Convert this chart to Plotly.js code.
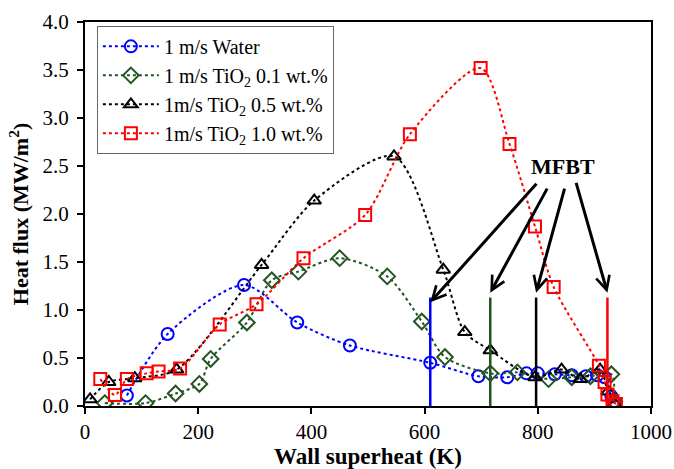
<!DOCTYPE html>
<html>
<head>
<meta charset="utf-8">
<script src="https://cdn.plot.ly/plotly-3.0.1.min.js"></script>
<style>html,body{margin:0;padding:0;background:#fff;}#chart{width:674px;height:469px;}</style>
</head>
<body>
<div id="chart"></div>
<script>
// Series data (x: wall superheat K, y: heat flux MW/m2)
const waterX = [74, 146, 281, 375, 468, 610, 695, 746, 780, 800, 830, 860, 885, 905, 918, 930, 936];
const waterY = [0.11, 0.75, 1.26, 0.87, 0.63, 0.45, 0.31, 0.30, 0.34, 0.34, 0.33, 0.32, 0.31, 0.32, 0.30, 0.10, 0.03];

const ti01X = [35, 107, 160, 202, 222, 286, 330, 377, 450, 534, 595, 636, 716, 764, 819, 860, 893, 930, 935];
const ti01Y = [0.03, 0.03, 0.13, 0.23, 0.49, 0.87, 1.31, 1.40, 1.54, 1.35, 0.88, 0.51, 0.34, 0.35, 0.28, 0.30, 0.31, 0.33, 0.05];

const ti05X = [9, 42, 88, 162, 312, 405, 546, 633, 671, 716, 795, 842, 875, 910, 924, 936];
const ti05Y = [0.07, 0.25, 0.29, 0.38, 1.47, 2.14, 2.60, 1.42, 0.77, 0.58, 0.30, 0.38, 0.28, 0.38, 0.15, 0.02];

const ti10X = [27, 53, 74, 109, 130, 168, 238, 303, 386, 495, 574, 699, 750, 795, 828, 908, 918, 923, 932, 938];
const ti10Y = [0.28, 0.115, 0.28, 0.34, 0.36, 0.39, 0.85, 1.06, 1.54, 1.99, 2.83, 3.52, 2.73, 1.87, 1.24, 0.42, 0.25, 0.12, 0.05, 0.02];

const seriesNames = ['1 m/s Water', '1 m/s TiO<sub>2</sub> 0.1 wt.%', '1m/s TiO<sub>2</sub> 0.5 wt.%', '1m/s TiO<sub>2</sub> 1.0 wt.%'];

// MFBT markers
const mfbtX = [610, 716, 797, 923];
const mfbtTop = [1.13, 1.13, 1.13, 1.13];
const arrowTailX = [800, 818, 848, 867];
const arrowTailY = [2.33, 2.28, 2.28, 2.34];
const arrowHeadY = [1.08, 1.18, 1.18, 1.18];
const mfbtLabel = {text: 'MFBT', x: 845, y: 2.49};

const xTicks = [0, 200, 400, 600, 800, 1000];
const yTicks = [0.0, 0.5, 1.0, 1.5, 2.0, 2.5, 3.0, 3.5, 4.0];

const colors = ['#0000ff', '#235523', '#000000', '#ff0000'];
const symbols = ['circle-open', 'diamond-open', 'triangle-up-open', 'square-open'];
const xs = [waterX, ti01X, ti05X, ti10X];
const ys = [waterY, ti01Y, ti05Y, ti10Y];

const FONT = 'Liberation Serif, Times New Roman, serif';

const traces = xs.map((x, i) => ({
  x: x, y: ys[i], name: seriesNames[i], type: 'scatter', mode: 'lines+markers',
  line: {color: colors[i], dash: 'dot', width: 2, shape: 'spline', smoothing: 0.8},
  marker: {symbol: symbols[i], size: 12, color: colors[i], line: {width: 2, color: colors[i]}}
}));

const shapes = mfbtX.map((x, i) => ({
  type: 'line', xref: 'x', yref: 'y', x0: x, x1: x, y0: 0, y1: mfbtTop[i],
  line: {color: colors[i], width: 2.5}
}));

const annotations = mfbtX.map((x, i) => ({
  xref: 'x', yref: 'y', axref: 'x', ayref: 'y',
  x: x, y: arrowHeadY[i], ax: arrowTailX[i], ay: arrowTailY[i],
  text: '', showarrow: true, arrowhead: 5, arrowsize: 0.9, arrowwidth: 3, arrowcolor: '#000'
}));
annotations.push({
  xref: 'x', yref: 'y', x: mfbtLabel.x, y: mfbtLabel.y, text: '<b>' + mfbtLabel.text + '</b>',
  showarrow: false, font: {family: FONT, size: 22, color: '#000'}
});

const layout = {
  width: 674, height: 469,
  margin: {l: 85, r: 23, t: 22, b: 63},
  paper_bgcolor: '#fff', plot_bgcolor: '#fff',
  font: {family: FONT, color: '#000', size: 20},
  showlegend: true,
  legend: {
    x: 0.021, y: 0.99, xanchor: 'left', yanchor: 'top',
    bgcolor: '#fff', bordercolor: '#666', borderwidth: 1,
    font: {family: FONT, size: 20, color: '#000'},
    itemwidth: 56
  },
  xaxis: {
    range: [0, 1000], tickvals: xTicks, ticktext: xTicks.map(String),
    showgrid: false, zeroline: false, showline: true, linecolor: '#000', linewidth: 2,
    mirror: true, ticks: 'outside', ticklen: 6, tickwidth: 2, tickcolor: '#000',
    tickfont: {family: FONT, size: 21},
    title: {text: '<b>Wall superheat (K)</b>', font: {family: FONT, size: 23}, standoff: 3}
  },
  yaxis: {
    range: [0, 4], tickvals: yTicks, ticktext: yTicks.map(v => v.toFixed(1)),
    showgrid: false, zeroline: false, showline: true, linecolor: '#000', linewidth: 2,
    mirror: true, ticks: 'outside', ticklen: 6, tickwidth: 2, tickcolor: '#000',
    tickfont: {family: FONT, size: 21}, ticklabelstandoff: 4,
    title: {text: '<b>Heat flux (MW/m<sup>2</sup>)</b>', font: {family: FONT, size: 22}, standoff: 8}
  },
  shapes: shapes,
  annotations: annotations
};

Plotly.newPlot('chart', traces, layout, {displayModeBar: false, staticPlot: true});
</script>
</body>
</html>
